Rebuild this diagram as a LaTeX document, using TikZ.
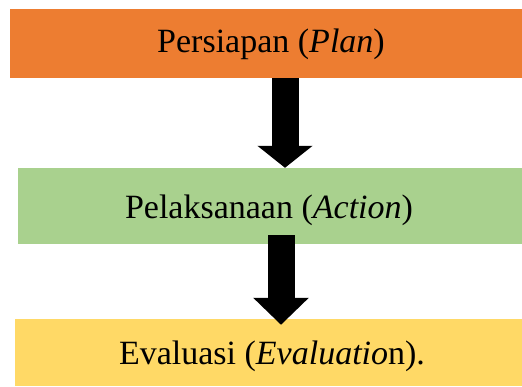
\documentclass[tikz,border=0pt]{standalone}
\usepackage{fontspec}
\setmainfont{Liberation Serif}
\usetikzlibrary{arrows.meta}
\definecolor{orng}{HTML}{ED7D31}
\definecolor{grn}{HTML}{A9D18E}
\definecolor{yel}{HTML}{FFD966}
\tikzset{
  stagebox/.style={inner sep=0pt},
  stagetext/.style={inner sep=0pt, anchor=base, font=\fontsize{34}{40}\selectfont},
  bigarrow/.style={draw=black, line width=27pt}
}
\begin{document}
\begin{tikzpicture}[x=1pt,y=-1pt]
\useasboundingbox (0,0) rectangle (522,386);
\node[stagebox, fill=orng, minimum width=512pt, minimum height=69pt] (plan) at (266,43.5) {};
\node[stagebox, fill=grn, minimum width=504pt, minimum height=76pt] (act) at (270,206) {};
\node[stagebox, fill=yel, minimum width=507pt, minimum height=67pt] (eva) at (268.5,352.5) {};
\node[stagetext] (plantext) at (271,52) {Persiapan (\textit{Plan})};
\node[stagetext] (acttext) at (269,218) {Pelaksanaan (\textit{Action})};
\node[stagetext] (evatext) at (272,364) {Evaluasi (\textit{Evaluatio}n).};
\draw[bigarrow, -{Triangle[length=22pt,width=54pt]}] ([xshift=19pt]plan.south) -- ([xshift=15pt]act.north);
\draw[bigarrow, -{Triangle[length=27pt,width=54pt]}] ([xshift=11pt,yshift=9pt]act.south) -- ([xshift=12.5pt,yshift=-6pt]eva.north);
\end{tikzpicture}
\end{document}
